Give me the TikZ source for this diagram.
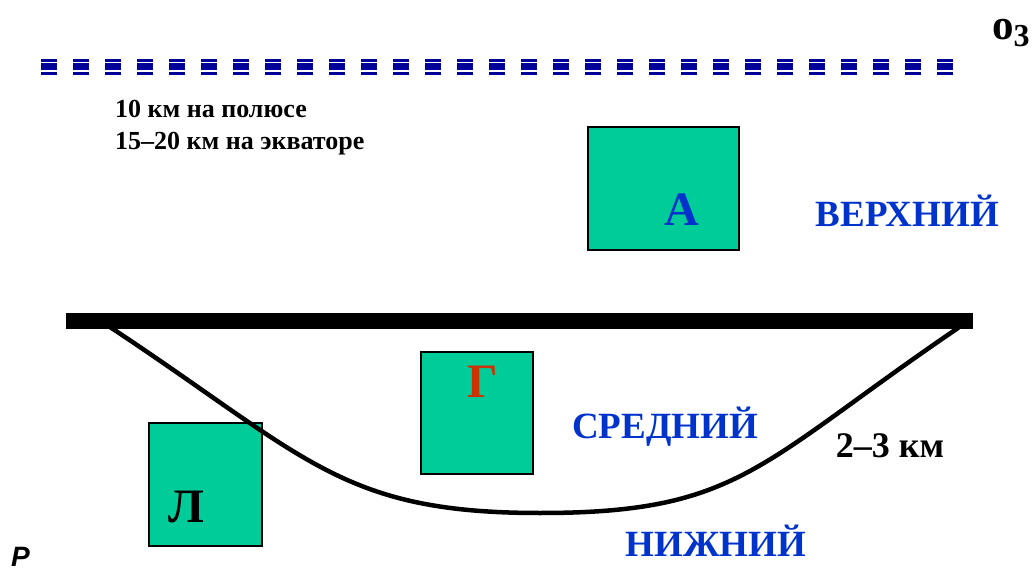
\documentclass[tikz,border=0pt]{standalone}
\usepackage{fontspec}
\setmainfont{Liberation Serif}
\newfontfamily\arialfont{Liberation Sans}
\definecolor{boxgreen}{HTML}{00CC99}
\definecolor{layerblue}{HTML}{0033CC}
\definecolor{dashblue}{HTML}{000099}
\definecolor{gred}{HTML}{CC3300}
\tikzset{
  greenbox/.style={draw=black, line width=2.5pt, fill=boxgreen, rectangle, inner sep=0pt},
  bigletter/.style={inner sep=0pt, anchor=base, font=\fontsize{48}{48}\selectfont\bfseries},
  layerlabel/.style={inner sep=0pt, anchor=base, text=layerblue, font=\fontsize{37}{37}\selectfont\bfseries},
  smalltext/.style={inner sep=0pt, anchor=base west, font=\fontsize{26}{26}\selectfont\bfseries},
  dashbar/.style={fill=dashblue, draw=none}
}
\begin{document}
\begin{tikzpicture}[x=1pt,y=-1pt]
\useasboundingbox (0,0) rectangle (1034,572);
% dashed tropopause line of = marks
\foreach \k in {0,...,28}{
  \fill[dashbar] ({41+32*\k},59) rectangle ({57+32*\k},62);
  \fill[dashbar] ({41+32*\k},63.5) rectangle ({57+32*\k},70);
  \fill[dashbar] ({41+32*\k},72) rectangle ({57+32*\k},75);
}
% ozone
\node[inner sep=0pt, anchor=base west] (ozone) at (992,40)
  {\fontsize{43}{43}\selectfont\bfseries o\raisebox{-7pt}{\fontsize{32}{32}\selectfont 3}};
% heights
\node[smalltext] (h1) at (115,118) {10 км на полюсе};
\node[smalltext] (h2) at (115,150) {15–20 км на экваторе};
% boxes
\node[greenbox, minimum width=151pt, minimum height=123pt] (boxA) at (663.5,188.5) {};
\node[bigletter, text=layerblue] (letA) at (682,226) {А};
\node[greenbox, minimum width=112pt, minimum height=122pt] (boxG) at (477,413) {};
\node[bigletter, text=gred] (letG) at (483,397) {Г};
\node[greenbox, minimum width=113pt, minimum height=123pt] (boxL) at (205.5,484.5) {};
\node[bigletter, text=black] (letL) at (186,522) {Л};
% bar and curve
\fill[black] (66,313) rectangle (973,329);
\coordinate (cl) at (107,325);
\coordinate (cb) at (540,513);
\coordinate (cr) at (958,328);
\draw[line width=4.5pt, line cap=round]
  (cl) .. controls (307,457) and (340,513) .. (cb)
       .. controls (740,513) and (758,464) .. (cr);
% layer labels
\node[layerlabel] (upper) at (907.5,227) {ВЕРХНИЙ};
\node[layerlabel] (middle) at (665,438) {СРЕДНИЙ};
\node[layerlabel] (lower) at (716,556) {НИЖНИЙ};
\node[inner sep=0pt, anchor=base, font=\fontsize{36}{36}\selectfont\bfseries] (thick) at (890,457) {2–3 км};
\node[inner sep=0pt, anchor=base west, font=\arialfont\fontsize{28}{28}\selectfont\bfseries\itshape] (P) at (11,566) {P};
\end{tikzpicture}
\end{document}
